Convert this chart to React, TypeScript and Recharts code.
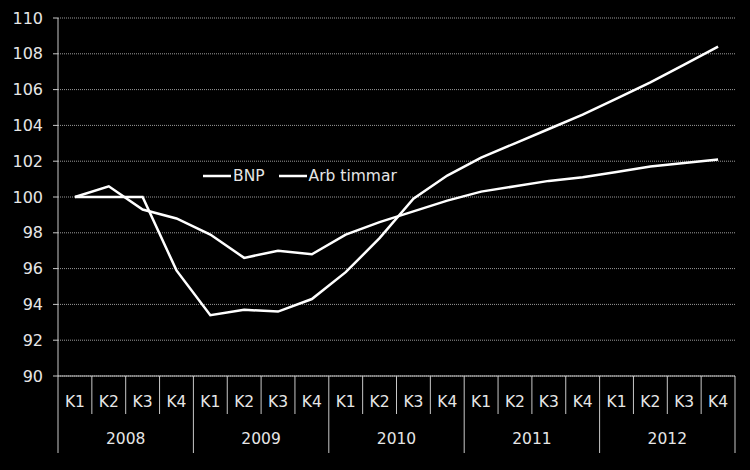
import React from 'react';
import { LineChart, Line, XAxis, YAxis, CartesianGrid, Legend } from 'recharts';

const years = ['2008', '2009', '2010', '2011', '2012'];
const quarters = ['K1', 'K2', 'K3', 'K4'];

// index values, 2008 K1 = 100
const bnp = [100.0, 100.0, 100.0, 95.9, 93.4, 93.7, 93.6, 94.3, 95.8, 97.7, 99.9, 101.2, 102.2, 103.0, 103.8, 104.6, 105.5, 106.4, 107.4, 108.4];
const arbTimmar = [100.0, 100.6, 99.3, 98.8, 97.9, 96.6, 97.0, 96.8, 97.9, 98.6, 99.2, 99.8, 100.3, 100.6, 100.9, 101.1, 101.4, 101.7, 101.9, 102.1];

const yTicks = [90, 92, 94, 96, 98, 100, 102, 104, 106, 108, 110];

const data = bnp.map((v, i) => ({
  id: years[Math.floor(i / 4)] + ' ' + quarters[i % 4],
  bnp: v,
  arb: arbTimmar[i],
}));

const FONT = '"DejaVu Sans", Verdana, sans-serif';
const AXIS = '#c8c8c8';
const TEXT = '#e6e6e6';

const PLOT_L = 58;
const PLOT_R = 735;
const PLOT_B = 376;
const BW = (PLOT_R - PLOT_L) / data.length;

function QuarterTick(props: any) {
  const { x, index } = props;
  const q = index % 4;
  const left = x - BW / 2;
  const right = x + BW / 2;
  return (
    <g>
      <line x1={left} x2={left} y1={PLOT_B} y2={q === 0 ? 453 : 414} stroke={AXIS} strokeWidth={1} />
      {index === data.length - 1 && (
        <line x1={right} x2={right} y1={PLOT_B} y2={453} stroke={AXIS} strokeWidth={1} />
      )}
      <text x={x} y={402} textAnchor="middle" dominantBaseline="central" fill={TEXT} fontSize={15.5} fontFamily={FONT}>
        {quarters[q]}
      </text>
      {q === 1 && (
        <text x={right} y={439} textAnchor="middle" dominantBaseline="central" fill={TEXT} fontSize={15.5} fontFamily={FONT}>
          {years[Math.floor(index / 4)]}
        </text>
      )}
    </g>
  );
}

function LegendBox() {
  const items = ['BNP', 'Arb timmar'];
  return (
    <div style={{ display: 'flex', alignItems: 'center', fontFamily: FONT, fontSize: 15.5, color: TEXT, whiteSpace: 'nowrap' }}>
      {items.map((name, i) => (
        <div key={name} style={{ display: 'flex', alignItems: 'center', marginRight: i === 0 ? 14 : 0 }}>
          <svg width={28} height={18} style={{ display: 'block' }}>
            <line x1={0} x2={28} y1={9} y2={9} stroke="#ffffff" strokeWidth={2.5} />
          </svg>
          <span style={{ marginLeft: 2, lineHeight: '18px' }}>{name}</span>
        </div>
      ))}
    </div>
  );
}

export default function App() {
  return (
    <div style={{ position: 'fixed', left: 0, top: 0, width: 750, height: 470, background: '#000000' }}>
      <LineChart width={750} height={470} data={data} margin={{ top: 18, right: 15, bottom: 0, left: 0 }}>
        <CartesianGrid vertical={false} stroke="#9a9a9a" strokeDasharray="1 1" />
        <XAxis
          dataKey="id"
          scale="band"
          interval={0}
          height={94}
          tickLine={false}
          axisLine={{ stroke: AXIS, strokeWidth: 1 }}
          tick={<QuarterTick />}
        />
        <YAxis
          domain={[90, 110]}
          ticks={yTicks}
          width={58}
          tickSize={5}
          tickMargin={10}
          tickLine={{ stroke: AXIS }}
          axisLine={{ stroke: AXIS, strokeWidth: 1 }}
          tick={{ fill: TEXT, fontSize: 16, fontFamily: FONT }}
        />
        <Legend
          layout="horizontal"
          verticalAlign="middle"
          content={() => <LegendBox />}
          wrapperStyle={{ left: 203, top: 167, width: 'auto' }}
        />
        <Line dataKey="bnp" name="BNP" stroke="#ffffff" strokeWidth={2.5} dot={false} isAnimationActive={false} />
        <Line dataKey="arb" name="Arb timmar" stroke="#ffffff" strokeWidth={2.5} dot={false} isAnimationActive={false} />
      </LineChart>
    </div>
  );
}
